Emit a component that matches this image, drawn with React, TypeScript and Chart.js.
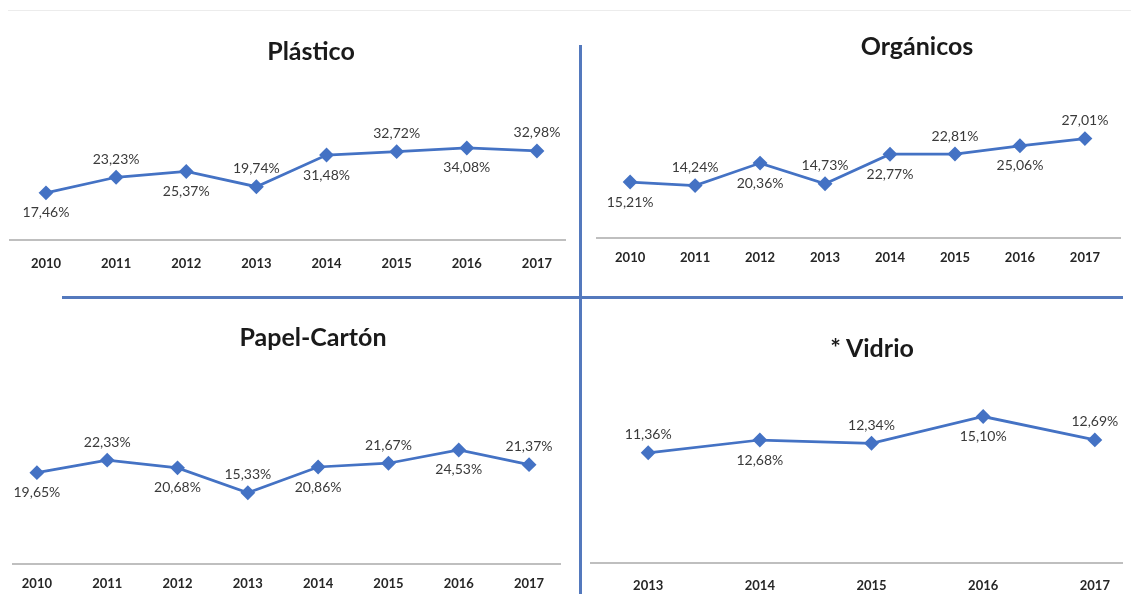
import React, { useEffect, useRef } from "react";
import { Chart, registerables } from "chart.js";

Chart.register(...registerables);

// ---- data ----
const plasticoYears = [2010, 2011, 2012, 2013, 2014, 2015, 2016, 2017];
const plasticoValues = [17.46, 23.23, 25.37, 19.74, 31.48, 32.72, 34.08, 32.98];

const organicosYears = [2010, 2011, 2012, 2013, 2014, 2015, 2016, 2017];
const organicosValues = [15.21, 14.24, 20.36, 14.73, 22.77, 22.81, 25.06, 27.01];

const papelYears = [2010, 2011, 2012, 2013, 2014, 2015, 2016, 2017];
const papelValues = [19.65, 22.33, 20.68, 15.33, 20.86, 21.67, 24.53, 21.37];

const vidrioYears = [2013, 2014, 2015, 2016, 2017];
const vidrioValues = [11.36, 12.68, 12.34, 15.1, 12.69];

const panelTitles = ["Plástico", "Orgánicos", "Papel-Cartón", "* Vidrio"];

// ---- layout / style ----
const BLUE = "#4472C4";
const FONT = "Lato, 'Open Sans', sans-serif";

type Panel = {
  title: string;
  years: number[];
  values: number[];
  box: { left: number; top: number; width: number; height: number };
  axisY: number;
  axisL: number;
  axisR: number;
  xMin: number;
  xMax: number;
  yMax: number;
  plotTop: number;
  tickPad: number;
  titleX: number;
  titleY: number;
  firstAbove: boolean;
};

const panels: Panel[] = [
  {
    title: panelTitles[0], years: plasticoYears, values: plasticoValues,
    box: { left: 0, top: 0, width: 578, height: 295 },
    axisY: 240, axisL: 10, axisR: 565, xMin: 2009.487, xMax: 2017.4,
    yMax: 40, plotTop: 132, tickPad: 16, titleX: 311, titleY: 50, firstAbove: false,
  },
  {
    title: panelTitles[1], years: organicosYears, values: organicosValues,
    box: { left: 583, top: 0, width: 548, height: 295 },
    axisY: 238, axisL: 597, axisR: 1120, xMin: 2009.49, xMax: 2017.54,
    yMax: 30, plotTop: 127.6, tickPad: 12, titleX: 917, titleY: 45, firstAbove: false,
  },
  {
    title: panelTitles[2], years: papelYears, values: papelValues,
    box: { left: 0, top: 299, width: 578, height: 295 },
    axisY: 564, axisL: 13, axisR: 560, xMin: 2009.66, xMax: 2017.44,
    yMax: 30, plotTop: 424.5, tickPad: 12, titleX: 313, titleY: 336, firstAbove: false,
  },
  {
    title: panelTitles[3], years: vidrioYears, values: vidrioValues,
    box: { left: 583, top: 299, width: 548, height: 295 },
    axisY: 563, axisL: 588, axisR: 1125, xMin: 2012.49, xMax: 2017.25,
    yMax: 16, plotTop: 407.8, tickPad: 15, titleX: 872, titleY: 347, firstAbove: true,
  },
];

const fmt = (v: number) => v.toFixed(2).replace(".", ",") + "%";

function PanelChart({ p }: { p: Panel }) {
  const ref = useRef<HTMLCanvasElement | null>(null);
  useEffect(() => {
    if (!ref.current) return;
    const labelPlugin = {
      id: "valueLabels",
      afterDatasetsDraw(chart: any) {
        const ctx = chart.ctx;
        const meta = chart.getDatasetMeta(0);
        ctx.save();
        ctx.font = `14px ${FONT}`;
        ctx.fillStyle = "#3a3a3a";
        ctx.textAlign = "center";
        ctx.textBaseline = "middle";
        meta.data.forEach((el: any, i: number) => {
          const above = (i % 2 === 0) === p.firstAbove;
          const y = above ? el.y - 18 : el.y + 20;
          ctx.fillText(fmt(p.values[i]), el.x, y);
        });
        ctx.restore();
      },
    };
    const chart = new Chart(ref.current, {
      type: "line",
      data: {
        datasets: [
          {
            data: p.years.map((yr, i) => ({ x: yr, y: p.values[i] })),
            borderColor: BLUE,
            backgroundColor: BLUE,
            borderWidth: 2.75,
            pointStyle: "rectRot",
            pointRadius: 5.5,
            pointBackgroundColor: BLUE,
            pointBorderColor: BLUE,
            tension: 0,
            clip: false as any,
          },
        ],
      },
      options: {
        responsive: false,
        animation: false,
        layout: {
          padding: {
            left: p.axisL - p.box.left,
            right: p.box.left + p.box.width - p.axisR,
            top: p.plotTop - p.box.top,
            bottom: 0,
          },
        },
        scales: {
          x: {
            type: "linear",
            min: p.xMin,
            max: p.xMax,
            grid: { display: false, drawTicks: false },
            border: { display: true, color: "#bfbfbf", width: 2 },
            ticks: {
              stepSize: 1,
              includeBounds: false,
              padding: p.tickPad,
              maxRotation: 0,
              autoSkip: false,
              color: "#262626",
              font: { family: FONT, weight: "bold", size: 13 },
              callback: (v: any) => String(v),
            },
            afterFit: (s: any) => {
              s.height = p.box.top + p.box.height - p.axisY;
            },
          },
          y: { display: false, min: 0, max: p.yMax },
        },
        plugins: {
          legend: { display: false },
          tooltip: { enabled: false },
          title: { display: false },
        },
      } as any,
      plugins: [labelPlugin],
    });
    return () => chart.destroy();
  }, [p]);
  return (
    <>
      <canvas
        ref={ref}
        width={p.box.width}
        height={p.box.height}
        style={{
          position: "absolute",
          left: p.box.left,
          top: p.box.top,
          width: p.box.width,
          height: p.box.height,
        }}
      />
      <div
        style={{
          position: "absolute",
          left: p.titleX - 200,
          top: p.titleY - 15,
          width: 400,
          height: 30,
          lineHeight: "30px",
          textAlign: "center",
          fontFamily: FONT,
          fontWeight: 700,
          fontSize: 25,
          color: "#1a1a1a",
        }}
      >
        {p.title}
      </div>
    </>
  );
}

export default function App() {
  return (
    <div
      style={{
        position: "fixed",
        left: 0,
        top: 0,
        width: 1131,
        height: 594,
        background: "#ffffff",
        overflow: "hidden",
      }}
    >
      <div style={{ position: "absolute", left: 8, top: 10, width: 1123, height: 1, background: "#ececec" }} />
      {panels.map((p) => (
        <PanelChart key={p.title} p={p} />
      ))}
      <div style={{ position: "absolute", left: 579, top: 45, width: 3, height: 549, background: "#5479bd" }} />
      <div style={{ position: "absolute", left: 62, top: 296, width: 1061, height: 3, background: "#5479bd" }} />
    </div>
  );
}
